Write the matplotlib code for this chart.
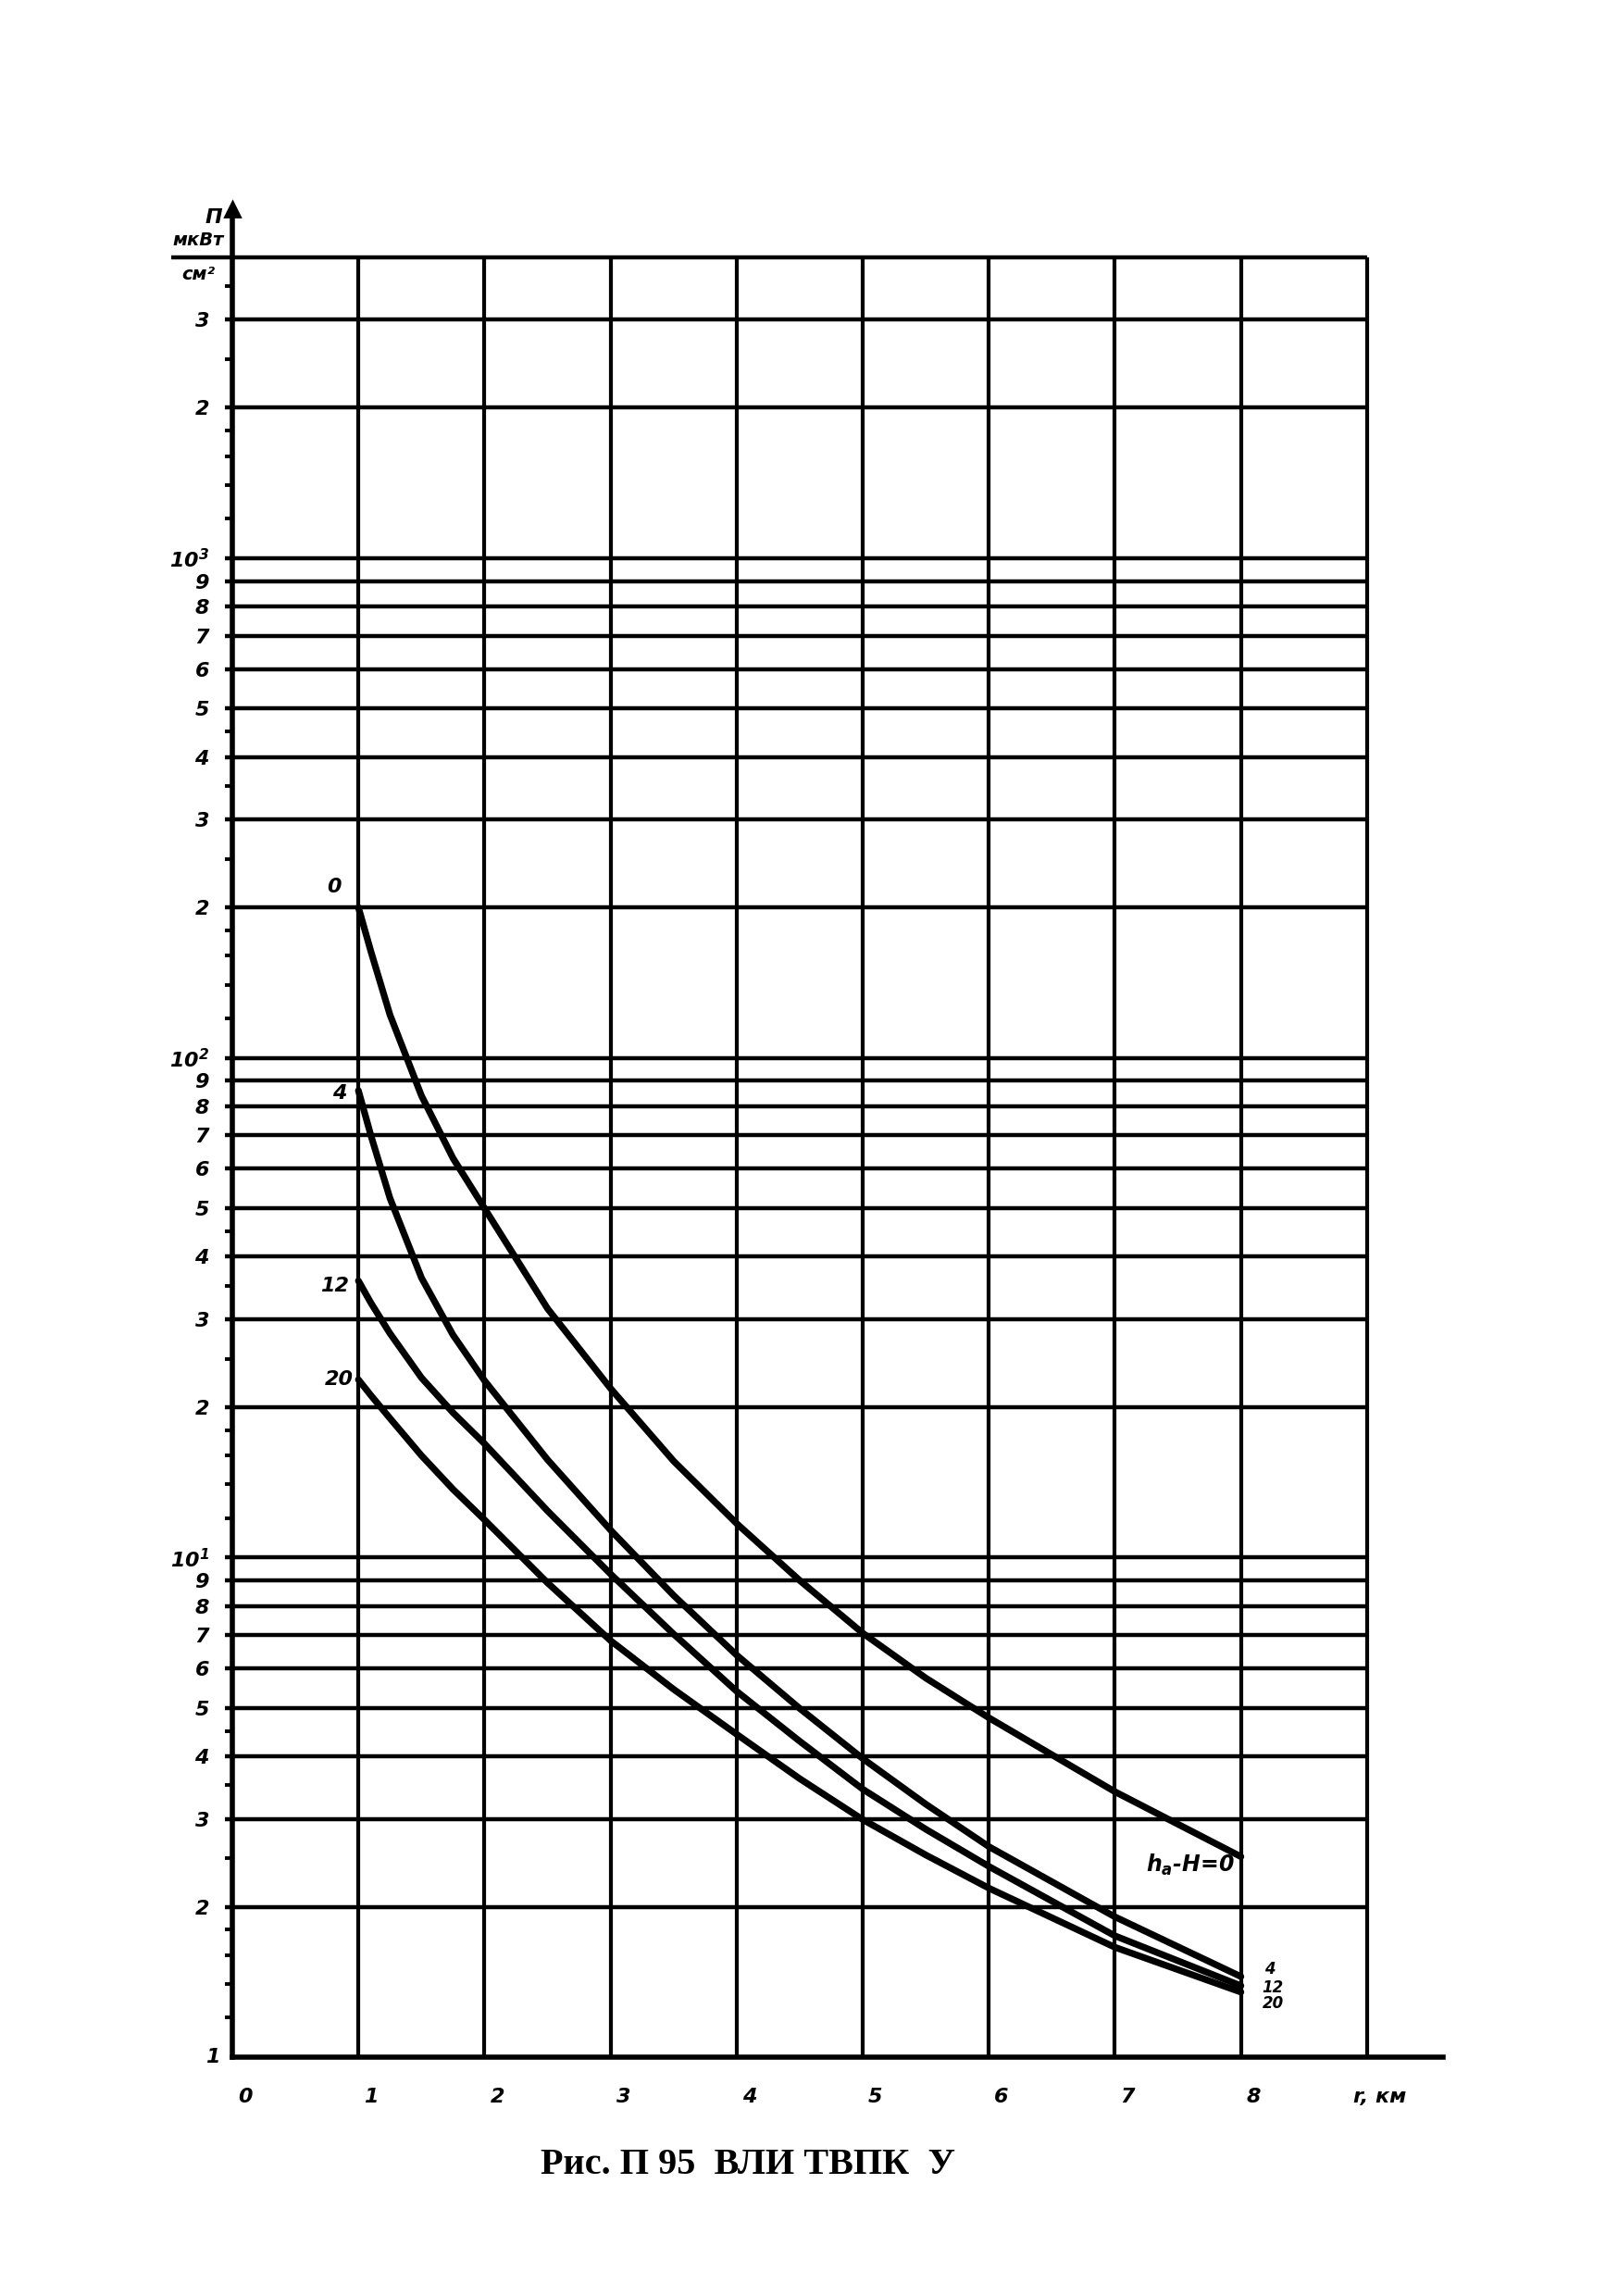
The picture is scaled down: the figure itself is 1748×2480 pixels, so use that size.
import matplotlib
matplotlib.use('Agg')
import matplotlib.pyplot as plt
import matplotlib.transforms as mtransforms

# handwritten-looking labels: bold italic everywhere, math too
plt.rcParams['font.family'] = ['DejaVu Sans']
plt.rcParams['mathtext.fontset'] = 'custom'
plt.rcParams['mathtext.rm'] = 'DejaVu Sans:italic:bold'
plt.rcParams['mathtext.it'] = 'DejaVu Sans:italic:bold'
plt.rcParams['mathtext.bf'] = 'DejaVu Sans:italic:bold'

# Data: power flux density vs distance
r_km = [1, 1.1, 1.25, 1.5, 1.75, 2, 2.5, 3, 3.5, 4, 4.5, 5, 5.5, 6, 7, 8]
p_h0 = [200, 163, 122, 84, 63, 50, 31.5, 21.8, 15.6, 11.7, 9.0, 7.06,
        5.74, 4.78, 3.40, 2.52]
p_h4 = [86, 69.8, 52.4, 36.3, 27.9, 22.6, 15.7, 11.35, 8.4, 6.38, 4.99,
        3.96, 3.21, 2.64, 1.91, 1.45]
p_h12 = [35.8, 32.3, 28.1, 22.9, 19.5, 16.9, 12.4, 9.27, 7.03, 5.40, 4.29,
         3.44, 2.86, 2.41, 1.75, 1.39]
p_h20 = [22.7, 21.1, 19.0, 16.0, 13.7, 11.9, 8.9, 6.82, 5.45, 4.43, 3.61,
         2.99, 2.54, 2.18, 1.66, 1.35]
curve_names = ['0', '4', '12', '20']

# grid of the log paper
grid_levels = [2, 3, 4, 5, 6, 7, 8, 9,
               10, 20, 30, 40, 50, 60, 70, 80, 90,
               100, 200, 300, 400, 500, 600, 700, 800, 900,
               1000, 2000, 3000, 4000]
grid_labels = ['2', '3', '4', '5', '6', '7', '8', '9',
               '$10^1$', '2', '3', '4', '5', '6', '7', '8', '9',
               '$10^2$', '2', '3', '4', '5', '6', '7', '8', '9',
               '$10^3$', '2', '3', '']
minor_levels = [1.2, 1.4, 1.6, 1.8, 2.5, 3.5, 4.5,
                12, 14, 16, 18, 25, 35, 45,
                120, 140, 160, 180, 250, 350, 450,
                1200, 1400, 1600, 1800, 2500, 3500]
x_ticks = [0, 1, 2, 3, 4, 5, 6, 7, 8, 9]
x_labels = ['0', '1', '2', '3', '4', '5', '6', '7', '8', 'r, км']

fig = plt.figure(figsize=(8.74, 12.4), dpi=200)
ax = fig.add_axes([0.1436, 0.104, 0.748, 0.805])
ax.set_yscale('log')
ax.set_xlim(0, 9.6)
ax.set_ylim(1, 5000)

# horizontal lines (4000 line runs out left as the fraction bar of the unit)
for lv in grid_levels:
    x0 = -0.485 if lv == 4000 else -0.06
    ax.hlines(lv, x0, 9, color='black', lw=1.6, clip_on=False, zorder=1)
for xv in x_ticks[1:]:
    ax.vlines(xv, 1, 4000, color='black', lw=1.5, zorder=1)

# curves
for vals in [p_h0, p_h4, p_h12, p_h20]:
    ax.plot(r_km, vals, color='black', lw=2.6, solid_capstyle='round',
            solid_joinstyle='round', zorder=3)

# axes
for s in ['top', 'right']:
    ax.spines[s].set_visible(False)
for s in ['left', 'bottom']:
    ax.spines[s].set_linewidth(2.0)
ax.plot(0, 5000, marker='^', color='black', markersize=6, clip_on=False)

lab = dict(fontsize=8, fontweight='bold', fontstyle='italic')
ax.set_yticks(grid_levels)
ax.set_yticklabels(grid_labels, **lab)
ax.set_yticks(minor_levels, minor=True)
ax.yaxis.set_minor_formatter(plt.NullFormatter())
ax.tick_params(axis='y', which='major', length=0, pad=9)
ax.tick_params(axis='y', which='minor', direction='out', length=3, width=1.4)
ax.set_xticks(x_ticks)
ax.set_xticklabels(x_labels, **lab)
ax.tick_params(axis='x', length=0, pad=12)
shift = mtransforms.ScaledTranslation(5 / 72, 0, fig.dpi_scale_trans)
for t in ax.get_xticklabels():
    t.set_transform(t.get_transform() + shift)
ax.text(-0.1, 1.0, '1', ha='right', va='center', clip_on=False, **lab)

# unit label  П, мкВт/см²
ax.text(-0.15, 4800, 'П', ha='center', va='center', clip_on=False, **lab)
ax.text(-0.27, 4150, 'мкВт', ha='center', va='bottom', clip_on=False,
        fontsize=7, fontweight='bold', fontstyle='italic')
ax.text(-0.27, 3850, 'см²', ha='center', va='top', clip_on=False,
        fontsize=7, fontweight='bold', fontstyle='italic')

# curve labels
start_pos = [(0.81, 220), (0.85, 85), (0.81, 35), (0.85, 22.7)]
for name, (xp, yp) in zip(curve_names, start_pos):
    ax.text(xp, yp, name, ha='center', va='center', **lab)
ax.text(7.25, 2.43, '$h_a$-H=0', ha='left', va='center', fontsize=8.5,
        fontweight='bold', fontstyle='italic')
end_pos = [(8.19, 1.50), (8.17, 1.38), (8.17, 1.28)]
for name, (xp, yp) in zip(curve_names[1:], end_pos):
    ax.text(xp, yp, name, ha='left', va='center', fontsize=6,
            fontweight='bold', fontstyle='italic')

fig.text(0.462, 0.057, 'Рис. П 95  ВЛИ ТВПК  У', ha='center', va='center',
         fontsize=14.5, fontweight='bold', family='Liberation Serif')

fig.savefig('out.png', dpi=200, facecolor='white')
